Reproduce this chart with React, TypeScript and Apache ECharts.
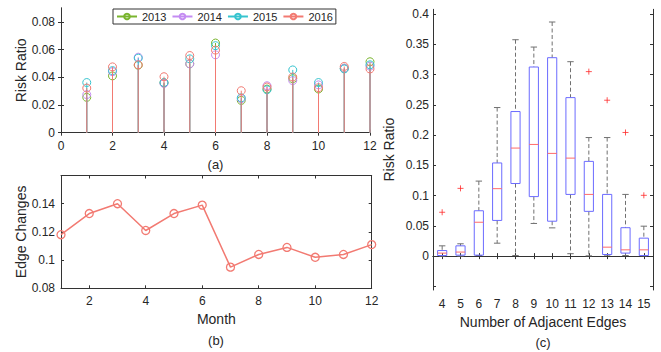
import React, { useEffect, useRef } from 'react';
import * as echarts from 'echarts';

// ---------- data ----------
const months = [1, 2, 3, 4, 5, 6, 7, 8, 9, 10, 11, 12];
const years = ['2013', '2014', '2015', '2016'];
const risk2013 = [0.0255, 0.041, 0.0487, 0.036, 0.0497, 0.0647, 0.0233, 0.0315, 0.039, 0.0315, 0.0465, 0.0512];
const risk2014 = [0.0275, 0.044, 0.0545, 0.0355, 0.0497, 0.0562, 0.0245, 0.0339, 0.0376, 0.0345, 0.0465, 0.048];
const risk2015 = [0.0362, 0.0448, 0.0538, 0.0362, 0.0533, 0.0628, 0.0252, 0.031, 0.0453, 0.0362, 0.046, 0.049];
const risk2016 = [0.0322, 0.0475, 0.049, 0.0404, 0.0557, 0.0596, 0.0303, 0.033, 0.0402, 0.0325, 0.0478, 0.046];
const edgeChanges = [0.118, 0.133, 0.14, 0.121, 0.133, 0.139, 0.095, 0.104, 0.109, 0.102, 0.104, 0.111];

const edgeCats = ['4', '5', '6', '7', '8', '9', '10', '11', '12', '13', '14', '15'];
const boxLow = [0, 0, 0.001, 0.0214, 0.001, 0.054, 0.0467, 0.004, 0.0005, 0.0016, 0.001, 0.0005];
const boxQ1 = [0.001, 0.0016, 0.0016, 0.059, 0.12, 0.0984, 0.0577, 0.102, 0.074, 0.0027, 0.005, 0.001];
const boxMed = [0.005, 0.0067, 0.056, 0.1115, 0.1786, 0.1846, 0.1698, 0.162, 0.102, 0.0148, 0.0104, 0.0104];
const boxQ3 = [0.0092, 0.017, 0.075, 0.154, 0.239, 0.3126, 0.328, 0.262, 0.1566, 0.102, 0.047, 0.0297];
const boxHigh = [0.017, 0.0204, 0.124, 0.2456, 0.3577, 0.3456, 0.387, 0.3214, 0.196, 0.196, 0.102, 0.0495];
const outlierCat = [0, 1, 8, 9, 10, 11];
const outlierVal = [0.0725, 0.112, 0.305, 0.2577, 0.2044, 0.1005];

const ticksA = [0, 0.02, 0.04, 0.06, 0.08];
const ticksB = [0.08, 0.1, 0.12, 0.14];
const ticksBx = [2, 4, 6, 8, 10, 12];
const ticksC = [0, 0.05, 0.1, 0.15, 0.2, 0.25, 0.3, 0.35, 0.4];
const ticksCminor = [-0.05, 0, 0.05, 0.1, 0.15, 0.2, 0.25, 0.3, 0.35, 0.4];

// ---------- style ----------
const FONT = '"Liberation Sans", Arial, Helvetica, sans-serif';
const TXT = '#262626';
const AX = '#333333';
const yearColors = ['#7ab52e', '#c48cf2', '#36c4cf', '#f27a72'];
const lineRed = '#f27a72';

const axisLine = { show: true, lineStyle: { color: AX, width: 1 } };
const tickIn = { show: true, inside: true, length: 3, lineStyle: { color: AX, width: 1 } };
const labelStyle = { color: TXT, fontFamily: FONT, fontSize: 12 };
const nameStyle = { color: TXT, fontFamily: FONT, fontSize: 14 };

const App: React.FC = () => {
  const ref = useRef<HTMLDivElement>(null);

  useEffect(() => {
    if (!ref.current) return;
    const chart = echarts.init(ref.current, undefined, { renderer: 'svg' });

    const riskSets = [risk2013, risk2014, risk2015, risk2016];
    const stemSeries = years.map((y, k) => {
      const data: any[] = [];
      months.forEach((m, i) => {
        data.push({ value: [m, 0], symbol: 'none' });
        data.push({ value: [m, riskSets[k][i]] });
        data.push({ value: [m, '-'], symbol: 'none' });
      });
      return {
        name: y,
        type: 'line',
        xAxisIndex: 0,
        yAxisIndex: 0,
        data,
        connectNulls: false,
        symbol: 'circle',
        symbolSize: 8,
        showAllSymbol: true,
        lineStyle: { color: yearColors[k], width: 1 },
        itemStyle: { color: 'rgba(255,255,255,0)', borderColor: yearColors[k], borderWidth: 1 },
        z: 2 + k,
      };
    });

    const boxData = edgeCats.map((_, i) => [i, boxLow[i], boxQ1[i], boxMed[i], boxQ3[i], boxHigh[i]]);
    const outData = outlierCat.map((c, i) => [c, outlierVal[i]]);

    const option: any = {
      animation: false,
      backgroundColor: '#ffffff',
      textStyle: { fontFamily: FONT },
      grid: [
        { left: 61, top: 8, width: 309, height: 124.7 },
        { left: 61, top: 175.5, width: 310.7, height: 112.8 },
        { left: 433, top: 9.3, width: 220, height: 280.7 },
      ],
      legend: {
        data: years,
        left: 113,
        top: 9,
        orient: 'horizontal',
        itemWidth: 20,
        itemHeight: 7,
        itemGap: 5,
        padding: [2, 3, 2, 3],
        borderColor: AX,
        borderWidth: 1,
        backgroundColor: '#ffffff',
        textStyle: { color: TXT, fontFamily: FONT, fontSize: 11 },
        z: 20,
      },
      xAxis: [
        {
          gridIndex: 0, type: 'value', position: 'bottom', min: 0, max: 12, interval: 2,
          axisLine, axisTick: tickIn, splitLine: { show: false },
          axisLabel: { ...labelStyle, margin: 7 },
        },
        {
          gridIndex: 0, type: 'value', position: 'top', min: 0, max: 12, interval: 2,
          axisLine, axisTick: tickIn, splitLine: { show: false }, axisLabel: { show: false },
        },
        {
          gridIndex: 1, type: 'value', position: 'bottom', min: 1, max: 12,
          axisLine, axisTick: { ...tickIn, customValues: ticksBx }, splitLine: { show: false },
          axisLabel: { ...labelStyle, margin: 7, customValues: ticksBx },
          name: 'Month', nameLocation: 'middle', nameGap: 24, nameTextStyle: nameStyle,
        },
        {
          gridIndex: 1, type: 'value', position: 'top', min: 1, max: 12,
          axisLine, axisTick: { ...tickIn, customValues: ticksBx }, splitLine: { show: false },
          axisLabel: { show: false, customValues: ticksBx },
        },
        {
          gridIndex: 2, type: 'category', position: 'bottom', data: edgeCats, boundaryGap: true,
          axisLine, axisTick: { ...tickIn, alignWithLabel: true }, splitLine: { show: false },
          axisLabel: { ...labelStyle, margin: 8, interval: 0 },
          name: 'Number of Adjacent Edges', nameLocation: 'middle', nameGap: 25, nameTextStyle: nameStyle,
        },
        {
          gridIndex: 2, type: 'category', position: 'top', data: edgeCats, boundaryGap: true,
          axisLine, axisTick: { ...tickIn, alignWithLabel: true }, splitLine: { show: false },
          axisLabel: { show: false },
        },
      ],
      yAxis: [
        {
          gridIndex: 0, type: 'value', position: 'left', min: 0, max: 0.09,
          axisLine, axisTick: { ...tickIn, customValues: ticksA }, splitLine: { show: false },
          axisLabel: { ...labelStyle, margin: 6, customValues: ticksA },
          name: 'Risk Ratio', nameLocation: 'middle', nameGap: 32, nameTextStyle: nameStyle,
        },
        {
          gridIndex: 0, type: 'value', position: 'right', min: 0, max: 0.09,
          axisLine, axisTick: { ...tickIn, customValues: ticksA }, splitLine: { show: false },
          axisLabel: { show: false, customValues: ticksA },
        },
        {
          gridIndex: 1, type: 'value', position: 'left', min: 0.08, max: 0.16,
          axisLine, axisTick: { ...tickIn, customValues: ticksB }, splitLine: { show: false },
          axisLabel: { ...labelStyle, margin: 6, customValues: ticksB },
          name: 'Edge Changes', nameLocation: 'middle', nameGap: 32, nameTextStyle: nameStyle,
        },
        {
          gridIndex: 1, type: 'value', position: 'right', min: 0.08, max: 0.16,
          axisLine, axisTick: { ...tickIn, customValues: ticksB }, splitLine: { show: false },
          axisLabel: { show: false, customValues: ticksB },
        },
        {
          gridIndex: 2, type: 'value', position: 'left', min: -0.056, max: 0.408,
          axisLine, axisTick: { ...tickIn, customValues: ticksCminor }, splitLine: { show: false },
          axisLabel: { ...labelStyle, margin: 4, customValues: ticksC },
          name: 'Risk Ratio', nameLocation: 'middle', nameGap: 37, nameTextStyle: nameStyle,
        },
        {
          gridIndex: 2, type: 'value', position: 'right', min: -0.056, max: 0.408,
          axisLine, axisTick: { ...tickIn, customValues: ticksCminor }, splitLine: { show: false },
          axisLabel: { show: false, customValues: ticksC },
        },
      ],
      series: [
        ...stemSeries,
        {
          name: 'Edge Changes',
          type: 'line',
          xAxisIndex: 2,
          yAxisIndex: 2,
          data: months.map((m, i) => [m, edgeChanges[i]]),
          symbol: 'circle',
          symbolSize: 8,
          lineStyle: { color: lineRed, width: 1.5 },
          itemStyle: { color: 'rgba(255,255,255,0)', borderColor: lineRed, borderWidth: 1.3 },
        },
        {
          name: 'box',
          type: 'custom',
          xAxisIndex: 4,
          yAxisIndex: 4,
          data: boxData,
          encode: { x: 0, y: [1, 2, 3, 4, 5] },
          renderItem: (params: any, api: any) => {
            const x = api.value(0);
            const lo = api.coord([x, api.value(1)]);
            const q1 = api.coord([x, api.value(2)]);
            const md = api.coord([x, api.value(3)]);
            const q3 = api.coord([x, api.value(4)]);
            const hi = api.coord([x, api.value(5)]);
            const w = api.size([1, 0])[0] * 0.5;
            const cx = lo[0];
            const cap = w * 0.35;
            const wStyle = { stroke: '#707070', lineWidth: 1, lineDash: [4, 2.5], fill: 'none' };
            const cStyle = { stroke: '#707070', lineWidth: 1, fill: 'none' };
            return {
              type: 'group',
              children: [
                { type: 'line', shape: { x1: cx, y1: hi[1], x2: cx, y2: q3[1] }, style: wStyle },
                { type: 'line', shape: { x1: cx, y1: q1[1], x2: cx, y2: lo[1] }, style: wStyle },
                { type: 'line', shape: { x1: cx - cap, y1: hi[1], x2: cx + cap, y2: hi[1] }, style: cStyle },
                { type: 'line', shape: { x1: cx - cap, y1: lo[1], x2: cx + cap, y2: lo[1] }, style: cStyle },
                {
                  type: 'rect',
                  shape: { x: cx - w / 2, y: q3[1], width: w, height: q1[1] - q3[1] },
                  style: { fill: 'none', stroke: '#6b6bff', lineWidth: 1 },
                },
                {
                  type: 'line',
                  shape: { x1: cx - w / 2, y1: md[1], x2: cx + w / 2, y2: md[1] },
                  style: { stroke: '#ff6b6b', lineWidth: 1 },
                },
              ],
            };
          },
          z: 3,
        },
        {
          name: 'outliers',
          type: 'scatter',
          xAxisIndex: 4,
          yAxisIndex: 4,
          data: outData,
          symbol: 'path://M5,0 L5,10 M0,5 L10,5',
          symbolSize: 6,
          itemStyle: { color: 'none', borderColor: '#ff2a2a', borderWidth: 1 },
          z: 4,
        },
      ],
      graphic: [
        { type: 'text', x: 215.5, y: 164.5, style: { text: '(a)', fill: TXT, font: `13px ${FONT}`, align: 'center', verticalAlign: 'middle' } },
        { type: 'text', x: 216, y: 340, style: { text: '(b)', fill: TXT, font: `13px ${FONT}`, align: 'center', verticalAlign: 'middle' } },
        { type: 'text', x: 543, y: 342, style: { text: '(c)', fill: TXT, font: `13px ${FONT}`, align: 'center', verticalAlign: 'middle' } },
      ],
    };

    chart.setOption(option);
    return () => chart.dispose();
  }, []);

  return <div ref={ref} style={{ width: 661, height: 352, position: 'absolute', left: 0, top: 0 }} />;
};

export default App;
